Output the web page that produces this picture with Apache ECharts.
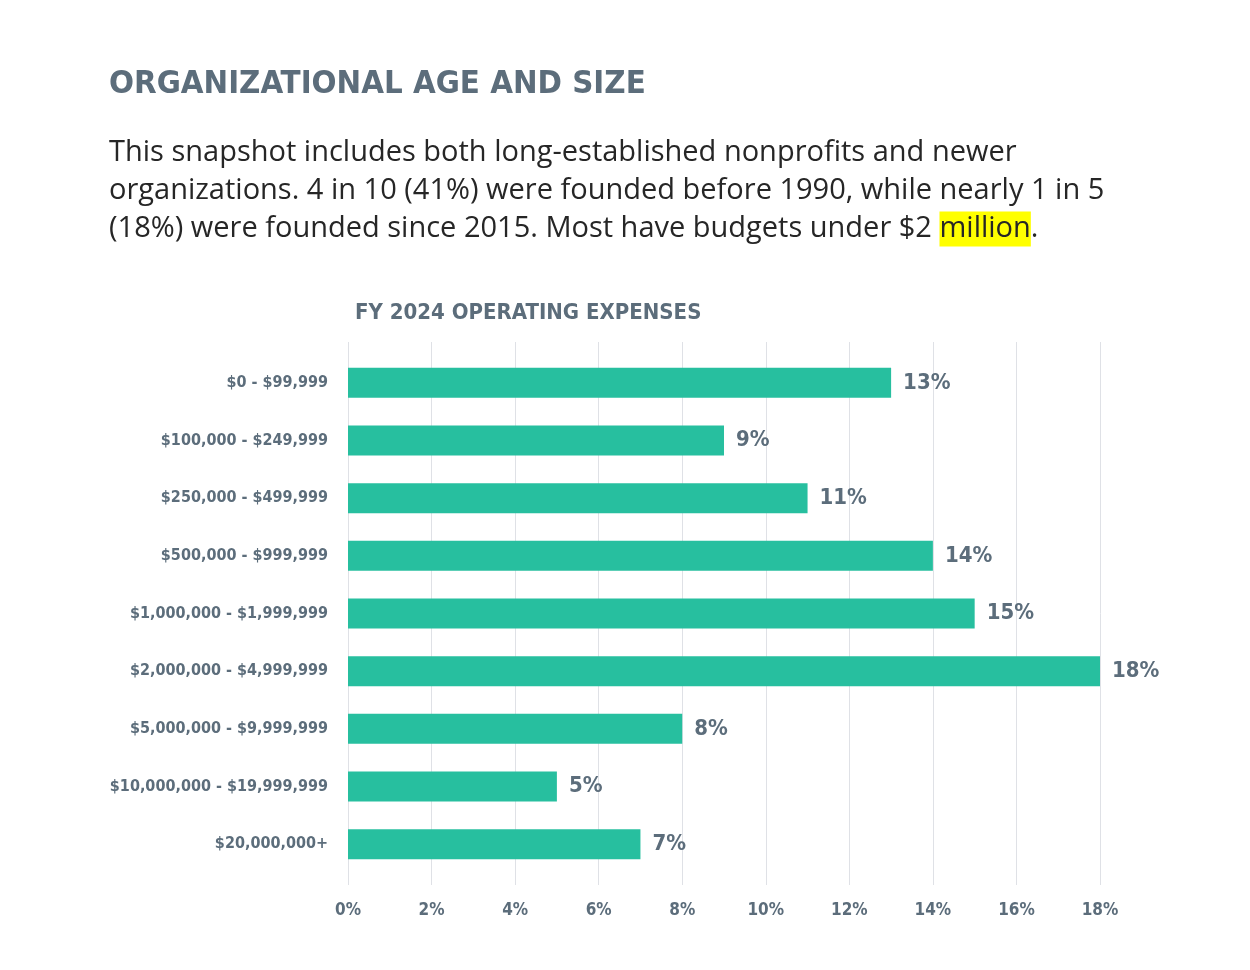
<!DOCTYPE html>
<html>
<head>
    <meta charset="utf-8">
    <title>Organizational Age and Size</title>
    <script src="https://cdn.jsdelivr.net/npm/echarts@6/dist/echarts.min.js"></script>
    <style>
        html, body { margin: 0; padding: 0; background: #fff; }
    </style>
</head>
<body>
<div id="chart" style="width: 1250px; height: 970px;"></div>
<script>
    // data
    var categories = [
        '$0 - $99,999',
        '$100,000 - $249,999',
        '$250,000 - $499,999',
        '$500,000 - $999,999',
        '$1,000,000 - $1,999,999',
        '$2,000,000 - $4,999,999',
        '$5,000,000 - $9,999,999',
        '$10,000,000 - $19,999,999',
        '$20,000,000+'
    ];
    var shares = [13, 9, 11, 14, 15, 18, 8, 5, 7];
    var xTicks = [0, 2, 4, 6, 8, 10, 12, 14, 16, 18];

    var slate = '#5c6d7b';
    var teal = '#27bf9f';
    var narrow = '"Liberation Sans Narrow", "DejaVu Sans Condensed", sans-serif';
    var body = '"Open Sans", Roboto, sans-serif';

    var myChart = echarts.init(document.getElementById('chart'));

    var option = {
        backgroundColor: '#fff',
        animation: false,
        title: [{
            text: 'ORGANIZATIONAL AGE AND SIZE',
            left: 104,
            top: 63,
            textStyle: { fontFamily: narrow, fontWeight: 'bold', fontSize: 32.7, color: slate }
        }, {
            text: 'This snapshot includes both long-established nonprofits and newer\n' +
                  'organizations. 4 in 10 (41%) were founded before 1990, while nearly 1 in 5\n' +
                  '(18%) were founded since 2015. Most have budgets under $2 {hl|million}.',
            left: 104,
            top: 129,
            textStyle: {
                fontFamily: body, fontWeight: 'normal', fontSize: 29, color: '#262626',
                lineHeight: 38,
                rich: {
                    hl: { fontFamily: body, fontWeight: 'normal', fontSize: 29, color: '#262626', backgroundColor: '#ffff00', lineHeight: 38, padding: [3, 0, 3, 0] }
                }
            }
        }, {
            text: 'FY 2024 OPERATING EXPENSES',
            left: 350,
            top: 297,
            textStyle: { fontFamily: narrow, fontWeight: 'bold', fontSize: 22, color: slate }
        }],
        grid: [
            { left: 348, right: 150, top: 354, bottom: 97, containLabel: false },
            { left: 348, right: 150, top: 342, bottom: 85, containLabel: false }
        ],
        xAxis: [{
            gridIndex: 0,
            type: 'value',
            min: 0,
            max: 18,
            interval: 2,
            axisLine: { show: false },
            axisTick: { show: false },
            splitLine: { show: false },
            axisLabel: { show: false }
        }, {
            gridIndex: 1,
            type: 'value',
            min: 0,
            max: 18,
            interval: 2,
            axisLine: { show: false },
            axisTick: { show: false },
            splitLine: { show: true, lineStyle: { color: '#dfe1e6', width: 1 } },
            axisLabel: {
                margin: 17,
                fontFamily: narrow, fontWeight: 'bold', fontSize: 17, color: slate,
                formatter: function (v) { return xTicks.indexOf(v) >= 0 ? v + '%' : ''; }
            }
        }],
        yAxis: [{
            gridIndex: 0,
            type: 'category',
            inverse: true,
            data: categories,
            axisLine: { show: false },
            axisTick: { show: false },
            axisLabel: {
                margin: 20,
                fontFamily: narrow, fontWeight: 'bold', fontSize: 16, color: slate
            }
        }, {
            gridIndex: 1,
            type: 'category',
            data: [''],
            show: false
        }],
        series: [{
            type: 'bar',
            xAxisIndex: 0,
            yAxisIndex: 0,
            data: shares,
            barWidth: 30,
            itemStyle: { color: teal },
            label: {
                show: true,
                position: 'right',
                distance: 12,
                formatter: '{c}%',
                fontFamily: narrow, fontWeight: 'bold', fontSize: 22, color: slate
            }
        }]
    };

    myChart.setOption(option);
</script>
</body>
</html>
